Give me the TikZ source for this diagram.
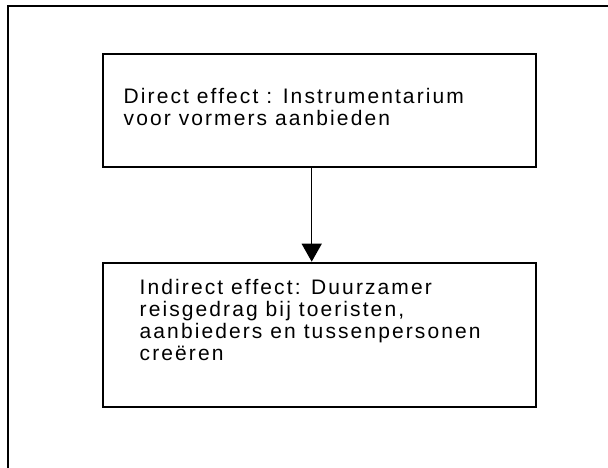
\documentclass[tikz,border=0pt]{standalone}
\usepackage{fontspec}
\newfontfamily\boxfont{Liberation Sans}[LetterSpace=10]
\usetikzlibrary{arrows.meta}
\begin{document}
\begin{tikzpicture}[x=1pt,y=-1pt,>={Triangle[width=20pt,length=18pt]},
    effectbox/.style={draw,line width=2pt,rectangle,inner sep=0pt},
    effecttext/.style={inner sep=0pt,anchor=base west,align=left,
        font=\boxfont\fontsize{21}{21.7}\selectfont}]
            \useasboundingbox (0,0) rectangle (608,468);
            \clip (0,0) rectangle (608,468);
            \draw[line width=2pt] (7.5,6.3) rectangle (620,480);
            \node[effectbox, minimum width=432.7pt, minimum height=112.4pt] (direct) at (319.7,110.5) {};
            \node[effectbox, minimum width=432.7pt, minimum height=144pt] (indirect) at (319.7,334.7) {};
            % base west = baseline of the last line
            \node[effecttext] (directtext) at (123.5,125.7)
                {Direct effect : Instrumentarium\\voor vormers aanbieden};
            \node[effecttext] (indirecttext) at (139.5,360)
                {Indirect effect: Duurzamer\\reisgedrag bij toeristen,\\aanbieders en tussenpersonen\\creëren};
            \coordinate (arrowx) at (311.7,0);
            \draw[->,line width=1.4pt] (direct.south -| arrowx) -- (indirect.north -| arrowx);
    \end{tikzpicture}
\end{document}
